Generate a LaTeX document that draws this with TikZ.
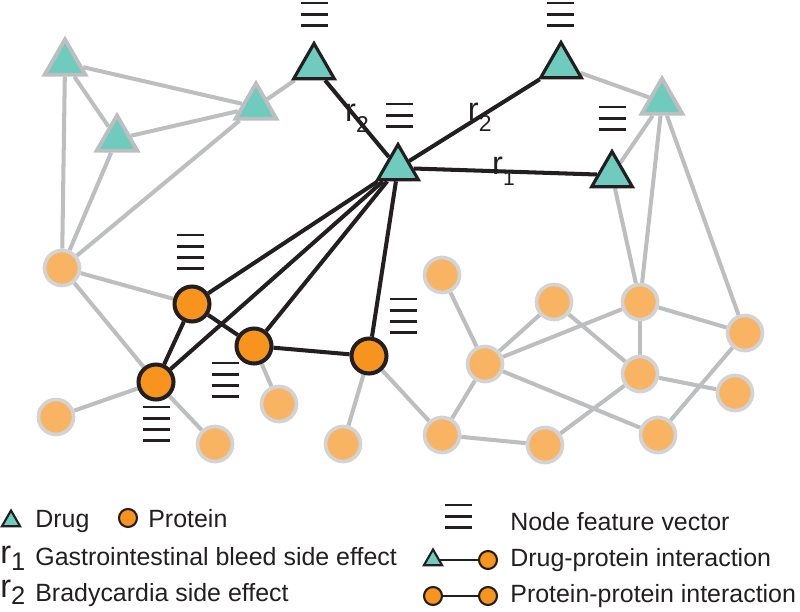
\documentclass[tikz,border=0pt]{standalone}
\usepackage{fontspec}
\setmainfont{Liberation Sans}
\usetikzlibrary{shapes.geometric, backgrounds}
\definecolor{drugteal}{RGB}{110,203,190}
\definecolor{protorange}{RGB}{247,148,30}
\definecolor{protlight}{RGB}{248,180,98}
\definecolor{ringgray}{RGB}{209,211,212}
\definecolor{linkgray}{RGB}{188,190,192}
\definecolor{ink}{RGB}{35,31,32}
\newcommand{\rlabel}[3]{{\fontsize{18.5}{18}\selectfont r}\raisebox{-#1}{\fontsize{#2}{#2}\selectfont #3}}

\begin{document}
\begin{tikzpicture}[x=0.02cm, y=-0.02cm, font=\fontsize{14.2}{17}\selectfont,
	drug/.style={regular polygon, regular polygon sides=3, inner sep=0pt,
	      minimum size=0.94cm, fill=drugteal, draw=ink, line width=1.8pt},
	drugbg/.style={drug, draw=linkgray, line width=2.2pt},
	prot/.style={circle, inner sep=0pt, minimum size=0.7cm, fill=protorange,
	      draw=ink, line width=2.3pt},
	protbg/.style={circle, inner sep=0pt, minimum size=0.7cm, fill=protlight,
	      draw=ringgray, line width=2.1pt},
	graylink/.style={linkgray, line width=2.3pt},
	blacklink/.style={ink, line width=2.3pt},
	rlab/.style={inner sep=0pt, text=ink},
	legtext/.style={anchor=base west, inner sep=0pt, text=ink},
	featline/.style={ink, line width=1.5pt},
	pics/featvec/.style={code={\foreach \k in {1,...,#1}
	      \draw[featline] (-13.5,{(\k-1)*11.2}) -- (13.5,{(\k-1)*11.2});}}]
	\useasboundingbox (0,0) rectangle (800,611);

	% drugs
	\node[drugbg] (d1) at (65,63) {};
	\node[drugbg] (d2) at (117,139) {};
	\node[drugbg] (d3) at (256,107) {};
	\node[drugbg] (d4) at (662,102) {};
	\node[drug] (t1) at (314,67) {};
	\node[drug] (t2) at (561,66) {};
	\node[drug] (c) at (398,168) {};
	\node[drug] (t3) at (612,175) {};

	% proteins
	\node[prot] (p1) at (192,304) {};
	\node[prot] (p2) at (254,346) {};
	\node[prot] (p3) at (156,382) {};
	\node[prot] (p4) at (369,356) {};
	\node[protbg] (g1) at (62,268) {};
	\node[protbg] (g2) at (56,417) {};
	\node[protbg] (g3) at (215,444) {};
	\node[protbg] (g4) at (279,404) {};
	\node[protbg] (g5) at (343,444) {};
	\node[protbg] (g6) at (442,275) {};
	\node[protbg] (g7) at (554,302) {};
	\node[protbg] (g8) at (640,302) {};
	\node[protbg] (g9) at (745,333) {};
	\node[protbg] (g10) at (485,364) {};
	\node[protbg] (g11) at (640,374) {};
	\node[protbg] (g12) at (735,393) {};
	\node[protbg] (g13) at (442,435) {};
	\node[protbg] (g14) at (545,445) {};
	\node[protbg] (g15) at (658,435) {};

	% feature vectors
	\pic at (314,3) {featvec=3};
	\pic at (560,3) {featvec=3};
	\pic at (399,104) {featvec=3};
	\pic at (612,107) {featvec=3};
	\pic at (190,235) {featvec=4};
	\pic at (225,363) {featvec=4};
	\pic at (156,407) {featvec=4};
	\pic at (403,299) {featvec=4};

	\begin{scope}[on background layer]
		\foreach \a/\b in {d1/d2, d1/d3, d2/d3, d3/t1, d1/g1, d2/g1, d3/g1, g1/p1,
		      g1/p3, p3/g2, p3/g3, p2/g4, p4/g5, p4/g13, t2/d4, d4/t3, d4/g8, d4/g9,
		      t3/g8, g6/g10, g7/g10, g10/g8, g7/g11, g8/g11, g8/g9, g11/g12,
		      g11/g14, g10/g15, g9/g15, g10/g13, g13/g14}
		      \draw[graylink] (\a) -- (\b);
		\foreach \a/\b in {c/p1, c/p2, c/p3, c/p4, p1/p3, p1/p2, p2/p4}
		      \draw[blacklink] (\a) -- (\b);
		\draw[blacklink] (t1) -- node[rlab, pos=0.5] {\rlabel{6.3pt}{13}{2}} (c);
		\draw[blacklink] (t2) -- node[rlab, pos=0.46] {\rlabel{6.3pt}{13}{2}} (c);
		\draw[blacklink] (c) -- node[rlab, pos=0.49] {\rlabel{6pt}{12}{1}} (t3);
	\end{scope}

	% legend
	\node[drug, minimum size=0.42cm, line width=1.2pt] (lgdrug) at (11,521) {};
	\node[legtext] (lgdrugtxt) at (35,527) {Drug};
	\node[prot, minimum size=0.36cm, line width=1.2pt] (lgprot) at (128,518) {};
	\node[legtext] (lgprottxt) at (148,527) {Protein};
	\pic at (458,505) {featvec=3};
	\node[legtext] (lgfeattxt) at (510,530) {Node feature vector};
	\node[legtext] (lgr1) at (0,563) {\rlabel{4.5pt}{14.5}{1}};
	\node[legtext] (lgr1txt) at (35,565) {Gastrointestinal bleed side effect};
	\node[legtext] (lgr2) at (0,597) {\rlabel{4.5pt}{14.5}{2}};
	\node[legtext] (lgr2txt) at (35,601) {Bradycardia side effect};
	\node[drug, minimum size=0.42cm, line width=1.2pt] (lgdpa) at (433,560) {};
	\node[prot, minimum size=0.36cm, line width=1.2pt] (lgdpb) at (488,560) {};
	\draw[ink, line width=1.2pt] (lgdpa) -- (lgdpb);
	\node[legtext] (lgdptxt) at (510,566) {Drug-protein interaction};
	\node[prot, minimum size=0.36cm, line width=1.2pt] (lgppa) at (433,596) {};
	\node[prot, minimum size=0.36cm, line width=1.2pt] (lgppb) at (488,596) {};
	\draw[ink, line width=1.2pt] (lgppa) -- (lgppb);
	\node[legtext] (lgpptxt) at (510,602) {Protein-protein interaction};
\end{tikzpicture}
\end{document}
